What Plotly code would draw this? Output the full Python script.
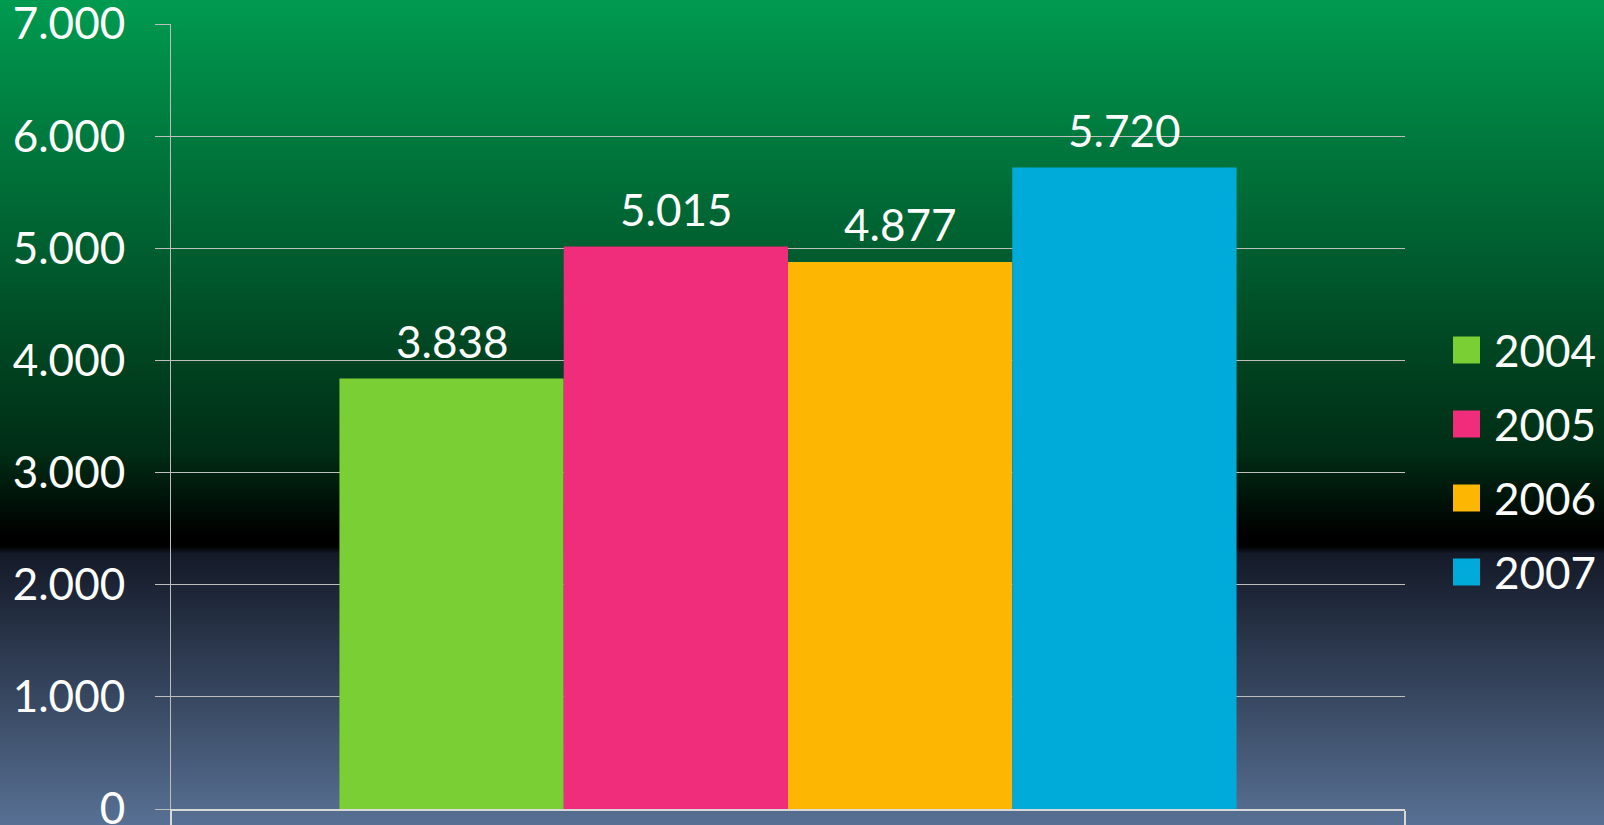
import base64, struct, zlib
import numpy as np
import plotly.graph_objects as go

# ---- data ----
categories = [""]
series_names = ["2004", "2005", "2006", "2007"]
series_values = [3838, 5015, 4877, 5720]
series_colors = ["#7ACF35", "#EF2D7A", "#FDB702", "#00ABDA"]
y_ticks = [0, 1000, 2000, 3000, 4000, 5000, 6000, 7000]

W, H = 1604, 825
L, R, T, B = 171, 199, 24, 16
PW, PH = W - L - R, H - T - B
BARGAP = 0.273
FS = 44

# ---- background gradient as inline PNG ----
stops_y = [0, 300, 450, 535, 546, 553, 825]
stops_c = [(0, 155, 80), (0, 82, 41), (0, 46, 22), (0, 0, 0), (0, 0, 0), (20, 26, 40), (88, 113, 148)]
ys = np.arange(H)
cols = np.stack([np.interp(ys, stops_y, [c[i] for c in stops_c]) for i in range(3)], axis=1).astype(np.uint8)
raw = b"".join(b"\x00" + bytes(row) for row in cols)
def chunk(tag, data):
    return struct.pack(">I", len(data)) + tag + data + struct.pack(">I", zlib.crc32(tag + data) & 0xffffffff)
png = b"\x89PNG\r\n\x1a\n" + chunk(b"IHDR", struct.pack(">IIBBBBB", 1, H, 8, 2, 0, 0, 0)) \
      + chunk(b"IDAT", zlib.compress(raw)) + chunk(b"IEND", b"")
bg_uri = "data:image/png;base64," + base64.b64encode(png).decode()

FONT = "Lato, 'Open Sans', sans-serif"

fig = go.Figure()
n = len(series_names)
bw = (1 - BARGAP) / n
annotations = []
shapes = []
for i, (name, val, col) in enumerate(zip(series_names, series_values, series_colors)):
    fig.add_trace(go.Bar(
        x=categories, y=[val], name=name,
        marker=dict(color=col, line=dict(width=0)),
        showlegend=False, cliponaxis=False,
        hovertemplate=name + ": %{y:,}<extra></extra>",
    ))
    # value label above the bar
    annotations.append(dict(
        x=-(1 - BARGAP) / 2 + (i + 0.5) * bw, y=val, xref="x", yref="y",
        text=f"{val:,}".replace(",", "."), showarrow=False,
        yanchor="middle", yshift=38,
        font=dict(size=FS, color="white", family=FONT)))
    # legend entry
    yc = 350 + 74 * i
    shapes.append(dict(type="rect", xref="paper", yref="paper",
                       x0=(1453 - L) / PW, x1=(1480 - L) / PW,
                       y0=(H - B - (yc + 13.5)) / PH, y1=(H - B - (yc - 13.5)) / PH,
                       fillcolor=col, line=dict(width=0)))
    annotations.append(dict(
        x=(1492 - L) / PW, y=(H - B - yc) / PH, xref="paper", yref="paper",
        xanchor="left", yanchor="middle", text=name, showarrow=False,
        font=dict(size=FS, color="white", family=FONT)))

fig.update_layout(
    template="none",
    width=W, height=H, autosize=False,
    margin=dict(l=L, r=R, t=T, b=B, pad=0, autoexpand=False),
    barmode="group", bargap=BARGAP, bargroupgap=0,
    separators=",.",
    paper_bgcolor="rgba(0,0,0,0)", plot_bgcolor="rgba(0,0,0,0)",
    font=dict(family=FONT, color="white", size=FS),
    showlegend=False,
    annotations=annotations,
    shapes=shapes,
    images=[dict(source=bg_uri, xref="paper", yref="paper",
                 x=-L / PW, y=1 + T / PH, sizex=W / PW, sizey=H / PH,
                 xanchor="left", yanchor="top", sizing="stretch", layer="below")],
)
fig.update_yaxes(range=[0, 7000], tickvals=y_ticks, tickformat=",d", automargin=False,
                 showgrid=True, gridcolor="#BEBEBE", gridwidth=1,
                 ticks="outside", ticklen=15, tickcolor="#BEBEBE", tickwidth=1,
                 showline=True, linecolor="#BEBEBE", linewidth=1,
                 ticklabelstandoff=21, zeroline=False, ticklabeloverflow="allow",
                 tickfont=dict(size=FS, color="white", family=FONT))
fig.update_xaxes(showticklabels=False, showline=True, linecolor="#D9D9D9", linewidth=2,
                 automargin=False,
                 ticks="outside", tickson="boundaries", ticklen=16, tickcolor="#D9D9D9",
                 tickwidth=2, showgrid=False, zeroline=False)

fig.write_html("out.html", config={"displayModeBar": False},
               post_script="document.body.style.margin='0';document.body.style.padding='0';"
                           "document.body.style.overflow='hidden';")
